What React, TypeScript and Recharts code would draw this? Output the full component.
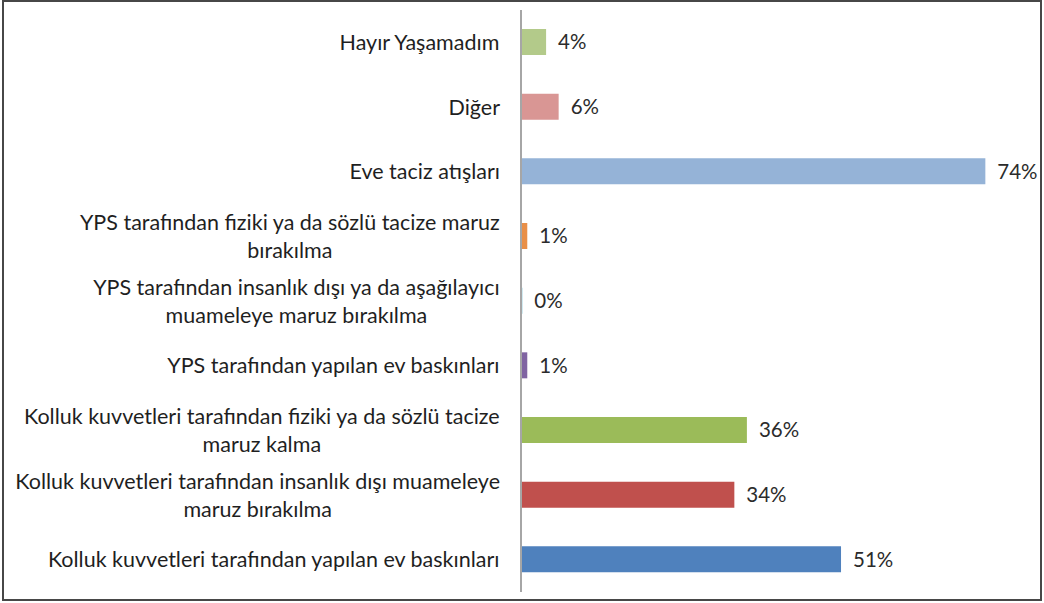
import { BarChart, Bar, XAxis, YAxis, Cell, LabelList } from 'recharts';

// Categories top to bottom, each split into its display lines
const categories = [
  ['Hayır Yaşamadım'],
  ['Diğer'],
  ['Eve taciz atışları'],
  ['YPS tarafından fiziki ya da sözlü tacize maruz', 'bırakılma'],
  ['YPS tarafından insanlık dışı ya da aşağılayıcı', 'muameleye maruz bırakılma'],
  ['YPS tarafından yapılan ev baskınları'],
  ['Kolluk kuvvetleri tarafından fiziki ya da sözlü tacize', 'maruz kalma'],
  ['Kolluk kuvvetleri tarafından insanlık dışı muameleye', 'maruz bırakılma'],
  ['Kolluk kuvvetleri tarafından yapılan ev baskınları'],
];

// percentages (0% row shows only a sliver)
const values = [4, 6, 74, 1, 0.2, 1, 36, 34, 51];

const colors = [
  '#B3CA8A',
  '#D99694',
  '#95B3D7',
  '#E98F47',
  '#4BACC6',
  '#8064A2',
  '#9BBB59',
  '#C0504D',
  '#4F81BD',
];

const FONT = 'Lato, sans-serif';
const TICK_SIZE = 21.5;
const LABEL_SIZE = 20.5;

const data = categories.map((lines, i) => ({
  name: lines.join('\n'),
  value: values[i],
}));

let ctx: CanvasRenderingContext2D | null = null;
function measure(text: string) {
  if (!ctx) ctx = document.createElement('canvas').getContext('2d');
  if (!ctx) return text.length * 10;
  ctx.font = `${TICK_SIZE}px ${FONT}`;
  return ctx.measureText(text).width;
}

function CategoryTick(props: any) {
  const { x, y, payload } = props;
  const lines: string[] = String(payload.value).split('\n');
  const widest = Math.max(...lines.map(measure));
  const cx = x - widest / 2;
  const lh = 28;
  const start = y - ((lines.length - 1) * lh) / 2;
  return (
    <text
      textAnchor="middle"
      fill="#1f1f1f"
      fontFamily={FONT}
      fontSize={TICK_SIZE}
    >
      {lines.map((l, i) => (
        <tspan key={i} x={cx} y={start + i * lh} dy="0.35em">
          {l}
        </tspan>
      ))}
    </text>
  );
}

export default function App() {
  return (
    <div
      style={{
        position: 'absolute',
        left: 0,
        top: 0,
        width: 1044,
        height: 603,
        background: '#fff',
      }}
    >
      <div
        style={{
          position: 'absolute',
          left: 2,
          top: 0,
          width: 1040,
          height: 601,
          border: '2px solid #474747',
          boxSizing: 'border-box',
        }}
      />
      <div style={{ position: 'absolute', left: 0, top: 0 }}>
        <BarChart
          width={1044}
          height={603}
          data={data}
          layout="vertical"
          margin={{ top: 10, right: 21, bottom: 11, left: 0 }}
        >
          <XAxis type="number" domain={[0, 80]} hide />
          <YAxis
            type="category"
            dataKey="name"
            width={521}
            tickSize={0}
            tickMargin={21}
            axisLine={{ stroke: '#A6A6A6', strokeWidth: 2 }}
            tickLine={false}
            tick={<CategoryTick />}
            interval={0}
          />
          <Bar dataKey="value" barSize={26} isAnimationActive={false}>
            {data.map((d, i) => (
              <Cell key={d.name} fill={colors[i]} />
            ))}
            <LabelList
              dataKey="value"
              position="right"
              offset={12}
              fill="#2b2b2b"
              fontFamily={FONT}
              fontSize={LABEL_SIZE}
              formatter={(v: any) => `${Math.round(Number(v))}%`}
            />
          </Bar>
        </BarChart>
      </div>
    </div>
  );
}
